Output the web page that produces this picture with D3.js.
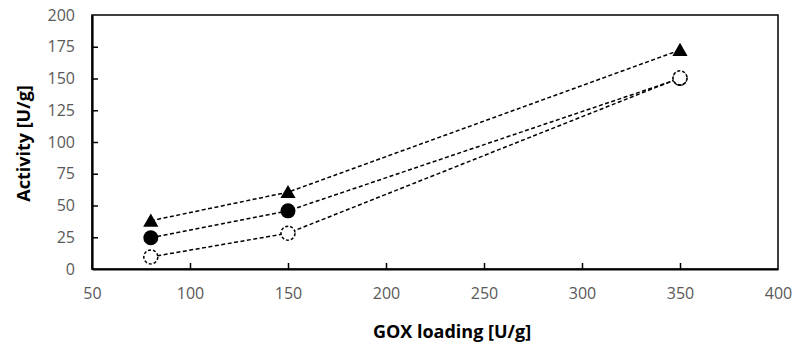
<!DOCTYPE html>
<html>
<head>
<meta charset="utf-8">
<script src="https://cdn.jsdelivr.net/npm/d3@7"></script>
<style>
  body { margin: 0; background: #fff; }
  svg { display: block; }
  .tick text { font-family: "Open Sans", sans-serif; font-size: 16px; fill: #595959; }
  .title { font-family: "Open Sans", sans-serif; font-size: 18px; font-weight: bold; fill: #000; }
</style>
</head>
<body>
<svg width="794" height="345"></svg>
<script>
var xLoad = [80, 150, 350];
var triVals = [38, 60.5, 172.4];
var fillVals = [24.6, 45.8, 150];
var openVals = [9.5, 28.2, 150.5];
var xTicks = [50, 100, 150, 200, 250, 300, 350, 400];
var yTicks = [0, 25, 50, 75, 100, 125, 150, 175, 200];

var margin = {left: 92, top: 15, right: 16, bottom: 76};
var width = 794 - margin.left - margin.right;
var height = 345 - margin.top - margin.bottom;

var svg = d3.select('svg')
    .append('g')
    .attr('transform', 'translate(' + margin.left + ',' + margin.top + ')');

var scaleX = d3.scaleLinear().domain([50, 400]).range([0, width]);
var scaleY = d3.scaleLinear().domain([0, 200]).range([height, 0]);

// frame
svg.append('rect')
    .attr('width', width)
    .attr('height', height)
    .attr('fill', 'none')
    .attr('stroke', '#000')
    .attr('stroke-width', 1.5);

var xAxis = svg.append('g')
    .attr('transform', 'translate(0,' + height + ')')
    .call(d3.axisBottom(scaleX).tickValues(xTicks).tickSizeInner(-6).tickSizeOuter(0).tickPadding(19));

var yAxis = svg.append('g')
    .call(d3.axisLeft(scaleY).tickValues(yTicks).tickSizeInner(-6).tickSizeOuter(0).tickPadding(17));

[xAxis, yAxis].forEach(function(a) {
    a.select('.domain').attr('stroke', '#000').attr('stroke-width', 2.2);
    a.selectAll('.tick line').attr('stroke', '#000').attr('stroke-width', 1.5);
});
xAxis.selectAll('.tick line').filter(function(d) { return d == 50 || d == 400; }).remove();
yAxis.selectAll('.tick line').filter(function(d) { return d == 0 || d == 200; }).remove();

var line = d3.line()
    .x(function(d) { return scaleX(d[0]); })
    .y(function(d) { return scaleY(d[1]); });

var series = [openVals, fillVals, triVals];

series.forEach(function(vals) {
    var pts = xLoad.map(function(x, i) { return [x, vals[i]]; });
    svg.append('path')
        .attr('d', line(pts))
        .attr('fill', 'none')
        .attr('stroke', '#000')
        .attr('stroke-width', 1.5)
        .attr('stroke-dasharray', '4,2.5');
});

// markers: filled circles first, then triangles, then open circles on top
svg.selectAll('.fillc')
    .data(xLoad.map(function(x, i) { return [x, fillVals[i]]; }))
    .enter()
    .append('circle')
    .attr('cx', function(d) { return scaleX(d[0]); })
    .attr('cy', function(d) { return scaleY(d[1]); })
    .attr('r', 7.5)
    .attr('fill', '#000');

// triangle centred on its box, not its centroid (like excel)
svg.selectAll('.tri')
    .data(xLoad.map(function(x, i) { return [x, triVals[i]]; }))
    .enter()
    .append('path')
    .attr('d', d3.symbol().type(d3.symbolTriangle).size(100))
    .attr('transform', function(d) { return 'translate(' + scaleX(d[0]) + ',' + (scaleY(d[1]) + 1.5) + ')'; })
    .attr('fill', '#000');

svg.selectAll('.openc')
    .data(xLoad.map(function(x, i) { return [x, openVals[i]]; }))
    .enter()
    .append('circle')
    .attr('cx', function(d) { return scaleX(d[0]); })
    .attr('cy', function(d) { return scaleY(d[1]); })
    .attr('r', 7)
    .attr('fill', '#fff')
    .attr('stroke', '#000')
    .attr('stroke-width', 1.5)
    .attr('stroke-dasharray', '3,2');

svg.append('text')
    .attr('class', 'title')
    .attr('x', 360)
    .attr('y', 323)
    .attr('text-anchor', 'middle')
    .text('GOX loading [U/g]');

svg.append('text')
    .attr('class', 'title')
    .attr('transform', 'translate(-62,' + (height / 2 + 1.5) + ') rotate(-90)')
    .attr('text-anchor', 'middle')
    .text('Activity [U/g]');
</script>
</body>
</html>
